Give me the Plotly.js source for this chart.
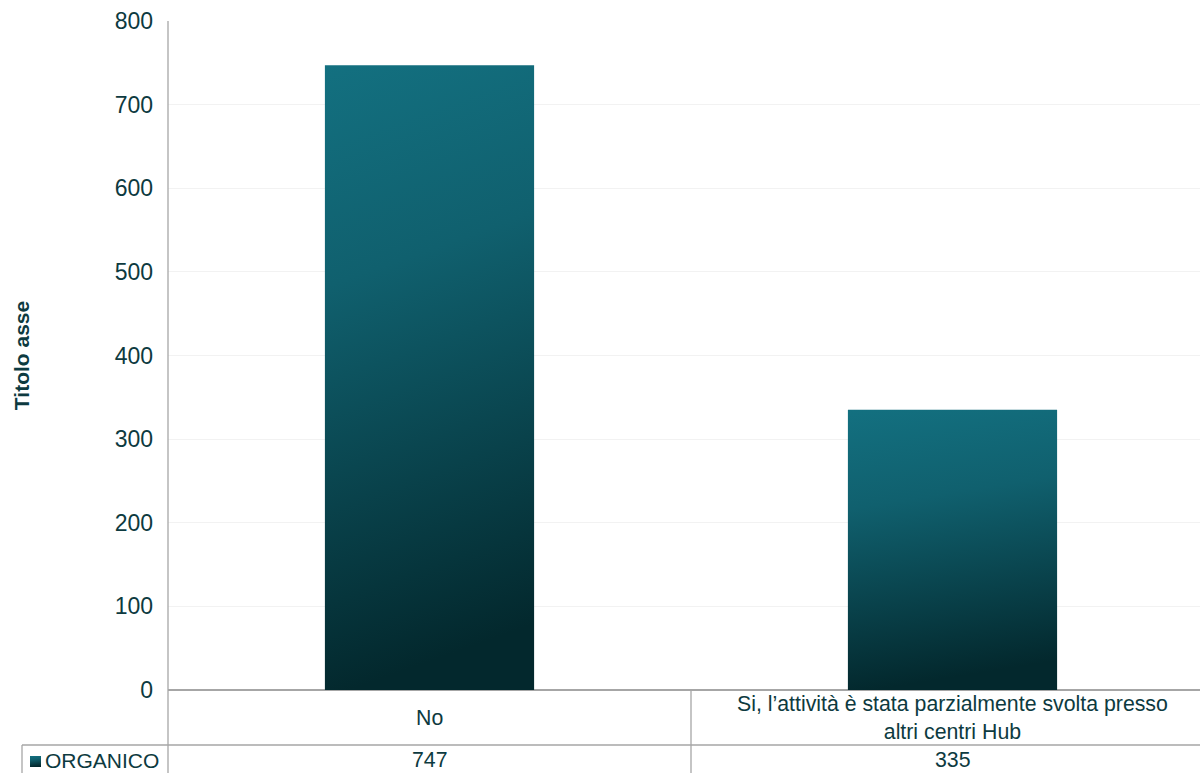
<!DOCTYPE html>
<html>
<head>
<meta charset="utf-8">
<script src="https://cdn.plot.ly/plotly-3.0.1.min.js"></script>
<style>html,body{margin:0;padding:0;background:#fff;}#chart{width:1200px;height:773px;}</style>
</head>
<body>
<div id="chart"></div>
<script>
var categories = ["No", "Si, l’attività è stata parzialmente svolta presso<br>altri centri Hub"];
var seriesName = "ORGANICO";
var values = [747, 335];
var yTicks = [0, 100, 200, 300, 400, 500, 600, 700, 800];

var W = 1200, H = 773;
var L = 168, R = 0, T = 21, B = 83;
var pw = W - L - R, ph = H - T - B;
function px2x(p){ return (p - L) / pw; }
function py2y(p){ return (H - B - p) / ph; }

var txtColor = '#0d3a40';
var lineColor = '#a6a6a6';
var fontFam = 'Liberation Sans, Arial, sans-serif';

var row1Bottom = 745, row2Bottom = 800, legLeft = 22;

var shapes = [
  {type:'line', xref:'paper', yref:'paper', x0:px2x(legLeft), x1:1.02, y0:py2y(row1Bottom), y1:py2y(row1Bottom), line:{color:lineColor, width:1.3}},
  {type:'line', xref:'paper', yref:'paper', x0:0, x1:0, y0:1, y1:py2y(row2Bottom), line:{color:lineColor, width:1.3}},
  {type:'line', xref:'x', yref:'paper', x0:0.5, x1:0.5, y0:0, y1:py2y(row2Bottom), line:{color:lineColor, width:1.3}},
  {type:'line', xref:'paper', yref:'paper', x0:px2x(legLeft), x1:px2x(legLeft), y0:py2y(row1Bottom), y1:py2y(row2Bottom), line:{color:lineColor, width:1.3}},
  {type:'rect', xref:'paper', yref:'paper', x0:px2x(30), x1:px2x(41), y0:py2y(756), y1:py2y(767), line:{width:0}, fillcolor:'#0e5a66'}
];

var annotations = [];
categories.forEach(function(c, i){
  annotations.push({x:i, xref:'x', y:py2y(718), yref:'paper', text:c, showarrow:false, yanchor:'middle', xanchor:'center', align:'center', font:{family:fontFam, size:21.3, color:txtColor}});
  annotations.push({x:i, xref:'x', y:py2y(760), yref:'paper', text:String(values[i]), showarrow:false, yanchor:'middle', xanchor:'center', font:{family:fontFam, size:21.3, color:txtColor}});
});
annotations.push({x:px2x(43), xref:'paper', y:py2y(760), yref:'paper', text:seriesName, showarrow:false, yanchor:'middle', xanchor:'left', font:{family:fontFam, size:21, color:txtColor}});

var trace = {
  type:'bar', x:[0,1], y:values, name:seriesName, width:0.4,
  marker:{color:'#0e5a66', line:{width:0}},
  hoverinfo:'skip'
};

var layout = {
  width:W, height:H,
  margin:{l:L, r:R, t:T, b:B, pad:0},
  paper_bgcolor:'#fff', plot_bgcolor:'#fff',
  showlegend:false,
  font:{family:fontFam, color:txtColor},
  xaxis:{range:[-0.5, -0.5 + pw/523], showticklabels:false, showgrid:false, zeroline:false, showline:false, ticks:'', fixedrange:true},
  yaxis:{range:[0,800], tickvals:yTicks, ticktext:yTicks.map(String), showgrid:true, gridcolor:'#f2f2f2', gridwidth:1,
         zeroline:true, zerolinecolor:lineColor, zerolinewidth:1.5, showline:false, ticks:'', ticklabelstandoff:14,
         tickfont:{family:fontFam, size:23, color:txtColor},
         title:{text:'<b>Titolo asse</b>', font:{family:fontFam, size:21, color:txtColor}, standoff:79}},
  shapes:shapes,
  annotations:annotations
};

Plotly.newPlot('chart', [trace], layout, {staticPlot:true, displayModeBar:false}).then(function(gd){
  var svg = gd.querySelector('.main-svg');
  var defs = svg.querySelector('defs');
  var ns = 'http://www.w3.org/2000/svg';
  var g = document.createElementNS(ns, 'linearGradient');
  g.setAttribute('id', 'barGrad');
  g.setAttribute('x1','0'); g.setAttribute('y1','0'); g.setAttribute('x2','0.12'); g.setAttribute('y2','1');
  [['0','#137080'],['0.35','#10606e'],['1','#03282d']].forEach(function(s){
    var st = document.createElementNS(ns,'stop');
    st.setAttribute('offset', s[0]); st.setAttribute('stop-color', s[1]);
    g.appendChild(st);
  });
  defs.appendChild(g);
  gd.querySelectorAll('.barlayer .point path').forEach(function(p){
    p.style.fill = 'url(#barGrad)';
  });
  var rects = gd.querySelectorAll('.shapelayer path');
  rects.forEach(function(p){
    if (p.style.fill && p.style.fill !== 'none' && p.style.fill.indexOf('rgba(0, 0, 0, 0)') < 0) p.style.fill = 'url(#barGrad)';
  });
});
</script>
</body>
</html>
